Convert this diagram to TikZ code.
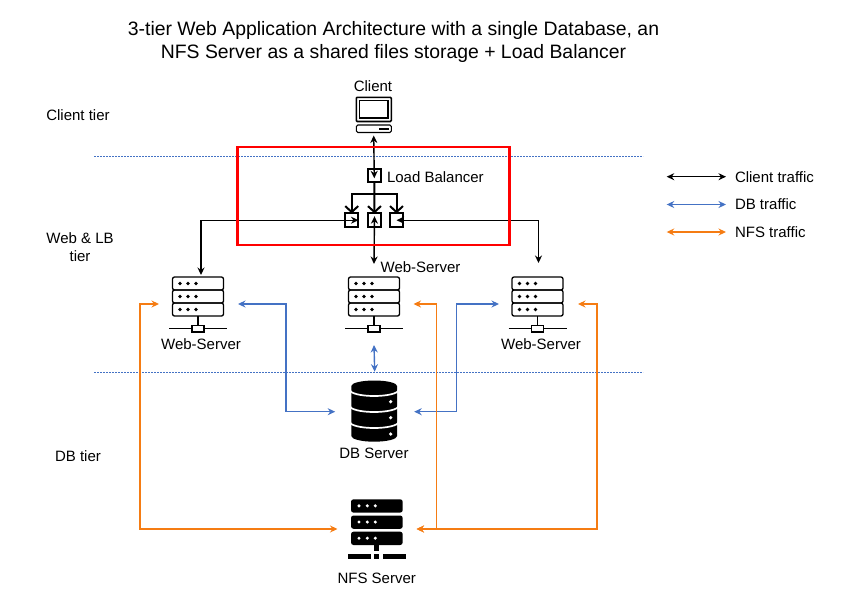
\documentclass[tikz,border=0pt]{standalone}
\usepackage{fontspec}
\setmainfont{Liberation Sans}
\usetikzlibrary{arrows.meta}
\definecolor{dbblue}{HTML}{4472C4}
\definecolor{nfsorange}{HTML}{F57C13}
\tikzset{
  every node/.style={font=\fontsize{15}{18}\selectfont, inner sep=0pt, outer sep=0pt},
  >={Stealth[length=7.5pt,width=7pt]},
  client/.style={black, line width=1.4pt, <->},
  dbline/.style={dbblue, line width=1.4pt, <->},
  nfsline/.style={nfsorange, line width=1.4pt, <->},
  tierline/.style={dbblue, line width=0.7pt, dash pattern=on 2pt off 1pt},
  lbbox/.style={rectangle, draw, line width=2pt, minimum size=13.5pt},
  lbfan/.style={line width=2pt, -{Straight Barb[length=6pt,width=13pt]}},
  iconbox/.style={rectangle, minimum width=79pt},
  pics/webicon/.style={code={
    \foreach \y in {-27,-14,-1} {
      \draw[line width=1.3pt, rounded corners=2pt] (-25.5,\y) rectangle (25.5,\y+13);
      \foreach \x in {-18,-10,-2} \fill (\x,\y+6.5) circle (1.8);
    }
    \draw[line width=1.3pt] (0,12) -- (0,22);
    \draw[line width=1.3pt] (-29,24.7) -- (29,24.7);
    \draw[line width=1.3pt, fill=white] (-6,21.7) rectangle (6,28);
  }}
}
\begin{document}
\begin{tikzpicture}[x=1pt, y=-1pt]
\useasboundingbox (0,0) rectangle (844,595);

% Title
\node[font=\fontsize{19.4}{23}\selectfont, align=center] (title) at (393.5,42) {3-tier Web Application Architecture with a single Database, an\\NFS Server as a shared files storage + Load Balancer};

% Tier separators and names
\coordinate (sepa1) at (94,156);
\coordinate (sepa2) at (643,156);
\coordinate (sepb1) at (94,372.5);
\coordinate (sepb2) at (643,372.5);
\draw[tierline] (sepa1) -- (sepa2);
\draw[tierline] (sepb1) -- (sepb2);
\node (clienttier) at (78,115) {Client tier};
\node[align=center] (webtier) at (80,247) {Web \& LB\\tier};
\node (dbtier) at (78,456) {DB tier};

% Client
\node (clientlabel) at (373,86) {Client};
\node[iconbox, minimum width=36pt, minimum height=38pt] (client) at (373.7,116.5) {};
\draw[line width=1.6pt, rounded corners=1pt] (356.3,97.3) rectangle (391.3,121.5);
\draw[line width=1.1pt] (359.5,100.5) rectangle (388,118);
\draw[line width=1.1pt, rounded corners=1.5pt] (356.3,125) rectangle (391.3,132.5);
\fill (379,127.7) rectangle (389,130);

% Load balancer
\node[lbbox] (lbtop) at (374.3,175.3) {};
\node[anchor=west] (lblabel) at (387,177) {Load Balancer};
\node[lbbox] (lbleft) at (351.7,220.2) {};
\node[lbbox] (lbmid) at (374.5,220.2) {};
\node[lbbox] (lbright) at (396.5,220.2) {};
\draw[lbfan] (lbtop.south) ++(0,11.5) -| (lbleft.north);
\draw[lbfan] (lbtop.south) -- (lbmid.north);
\draw[lbfan] (lbtop.south) ++(0,11.5) -| (lbright.north);

% Web servers
\node[iconbox, minimum height=58pt] (web1) at (198.5,304) {};
\node[iconbox, minimum height=58pt] (web2) at (374,304) {};
\node[iconbox, minimum height=58pt] (web3) at (538.5,304) {};
\pic at (198,304) {webicon};
\pic at (374,304) {webicon};
\pic at (537.5,304) {webicon};
\node (weblabel1) at (201,344) {Web-Server};
\node (weblabel2) at (420.5,267) {Web-Server};
\node (weblabel3) at (541,344) {Web-Server};

% DB server
\node[iconbox, minimum height=80pt] (db) at (374.7,411.7) {};
\fill (351.3,386) -- (351.3,436) arc[start angle=180, end angle=0, x radius=22.9, y radius=5.7] -- (397.1,386) arc[start angle=0, end angle=-180, x radius=22.9, y radius=5.5];
\foreach \y in {390,406,422}
  \draw[white, line width=1.7pt] (350,\y) arc[start angle=180, end angle=0, x radius=24.2, y radius=6];
\foreach \y in {401.7,417.7,434}
  \fill[white] (390.7,\y) circle (1.8);
\node (dblabel) at (374,453.5) {DB Server};

% NFS server
\node[iconbox, minimum height=66pt] (nfs) at (377,529) {};
\foreach \y in {499.3,515.5,531.7} {
  \fill[rounded corners=2.5pt] (351,\y) rectangle (402.7,\y+13.3);
  \foreach \x in {359,367.3,375.3} \fill[white] (\x,\y+6.5) circle (1.7);
}
\fill (374.2,544) rectangle (379.2,551);
\fill (347.7,554) rectangle (371,559);
\fill (374.3,554) rectangle (379,559);
\fill (382.7,554) rectangle (406,559);
\node (nfslabel) at (376.7,578.5) {NFS Server};

% Client traffic
\draw[client] (client.south) -- ([yshift=-3pt]lbtop.center);
\draw[client] (lbleft.east) -| ([xshift=2.5pt]web1.north);
\draw[client] (lbright.center) -| ([yshift=12pt]web3.north);
\draw[client] ([yshift=4pt]lbmid.center) -- ([yshift=11pt]web2.north);

% DB traffic
\draw[dbline] (web1.east) -- ++(48,0) |- (db.west);
\draw[dbline] ([yshift=-12pt]web2.south) -- (db.north);
\draw[dbline] (db.east) -- ++(42.5,0) |- (web3.west);

% NFS traffic
\draw[nfsline] (web1.west) -- ++(-19,0) |- (nfs.west);
\draw[nfsline] (web2.east) -- ++(23,0) |- (nfs.east);
\draw[nfsline] (web3.east) -- ++(19,0) |- (nfs.east);

% Red frame
\node[rectangle, draw=red, line width=2.2pt, minimum width=272pt, minimum height=98pt] (frame) at (373.5,196) {};

% Legend
\coordinate (lega1) at (666.7,176.7);
\coordinate (lega2) at (726,176.7);
\coordinate (legb1) at (666.7,204.5);
\coordinate (legb2) at (726,204.5);
\coordinate (legc1) at (666.7,232);
\coordinate (legc2) at (726,232);
\draw[client] (lega1) -- (lega2);
\draw[dbline] (legb1) -- (legb2);
\draw[nfsline] (legc1) -- (legc2);
\node[anchor=west] (legclient) at (735,177) {Client traffic};
\node[anchor=west] (legdb) at (735,204.5) {DB traffic};
\node[anchor=west] (legnfs) at (735,232) {NFS traffic};

\end{tikzpicture}
\end{document}
